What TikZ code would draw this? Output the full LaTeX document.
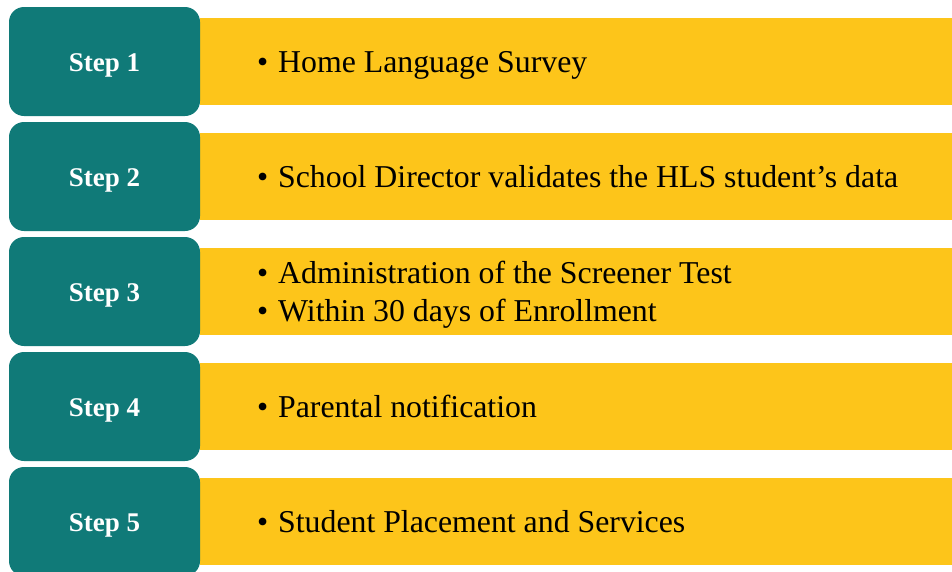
\documentclass[tikz,border=0pt]{standalone}
\usepackage{fontspec}
\setmainfont{Liberation Serif}
\definecolor{teal1}{RGB}{16,122,120}
\definecolor{gold1}{RGB}{253,197,26}
\tikzset{
  stepbox/.style={fill=teal1, draw=none, rounded corners=15pt},
  barbox/.style={fill=gold1, draw=none},
  steplabel/.style={text=white, font=\fontsize{27}{32}\selectfont\bfseries, inner sep=0pt, anchor=base},
  bartext/.style={text=black, font=\fontsize{31.8}{38}\selectfont, inner sep=0pt, anchor=base west, align=left}
}
\newcommand{\blt}{\llap{\textbullet\hspace{10pt}}}
\begin{document}
\begin{tikzpicture}[x=1pt,y=-1pt]
\useasboundingbox (0,0) rectangle (952,571);
\clip (0,0) rectangle (952,571);
\foreach \i in {0,1,2,3,4}{
  \pgfmathsetmacro{\yy}{\i*115}
  \fill[barbox] (200,18+\yy) rectangle (952,105+\yy);
  \fill[stepbox] (9,7+\yy) rectangle (200,116+\yy);
}
\node[steplabel] (s1) at (104.5,71) {Step 1};
\node[steplabel] (s2) at (104.5,186) {Step 2};
\node[steplabel] (s3) at (104.5,301) {Step 3};
\node[steplabel] (s4) at (104.5,416) {Step 4};
\node[steplabel] (s5) at (104.5,531) {Step 5};
\node[bartext] (t1) at (278,72.5) {\blt Home Language Survey};
\node[bartext] (t2) at (278,187.5) {\blt School Director validates the HLS student’s data};
\node[bartext] (t3a) at (278,283.5) {\blt Administration of the Screener Test};
\node[bartext] (t3b) at (278,321.5) {\blt Within 30 days of Enrollment};
\node[bartext] (t4) at (278,417.5) {\blt Parental notification};
\node[bartext] (t5) at (278,532.5) {\blt Student Placement and Services};
\end{tikzpicture}
\end{document}
